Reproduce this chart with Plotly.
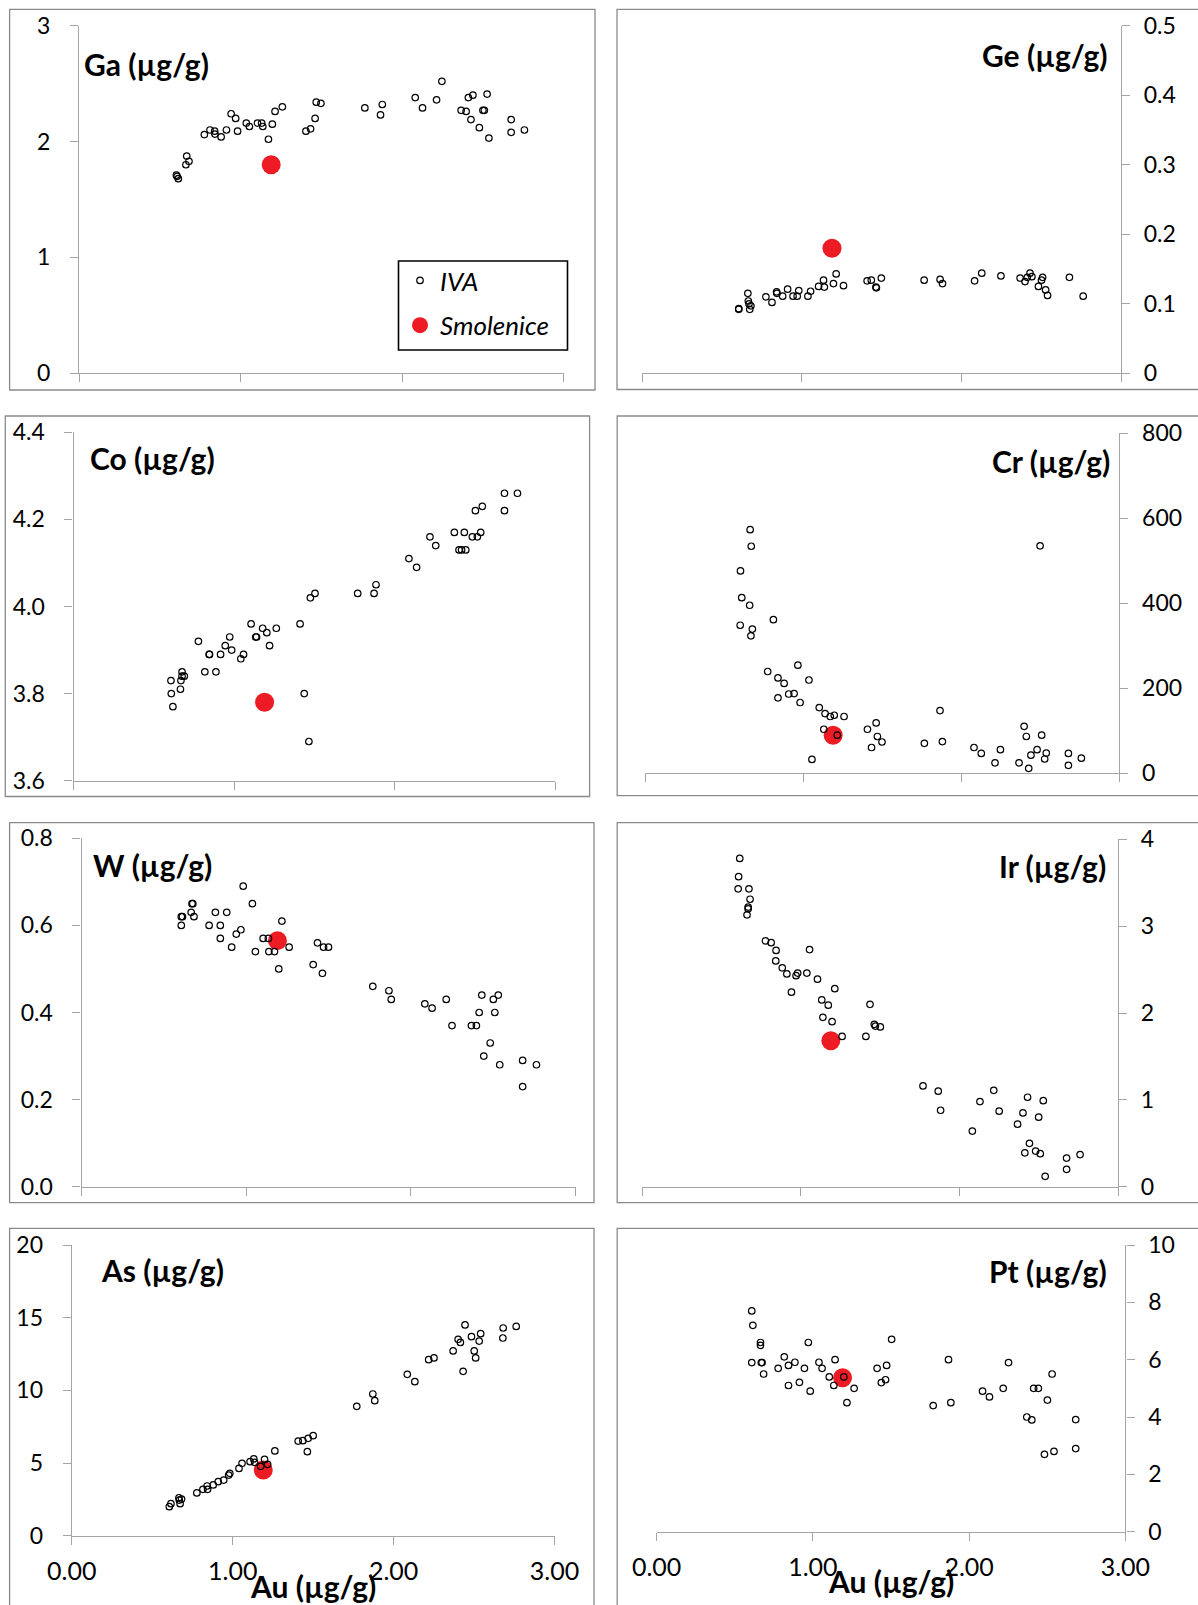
import plotly.graph_objects as go

W, H = 1198, 1605

# ---- Au (µg/g) and element concentrations for IVA irons ----
ga_au = [0.603, 0.608, 0.615, 0.667, 0.662, 0.681, 0.776, 0.811, 0.840, 0.842, 0.880, 0.913, 0.942, 0.970,
         0.982, 1.036, 1.055, 1.105, 1.131, 1.138, 1.173, 1.197, 1.214, 1.259, 1.405, 1.434, 1.462, 1.469,
         1.498, 1.770, 1.867, 1.878, 2.082, 2.127, 2.214, 2.247, 2.366, 2.397, 2.411, 2.439, 2.427, 2.479,
         2.501, 2.510, 2.527, 2.538, 2.676, 2.676, 2.758]
ga_iva = [1.71, 1.70, 1.68, 1.875, 1.80, 1.83, 2.06, 2.10, 2.09, 2.065, 2.04, 2.10, 2.24, 2.20, 2.09, 2.16,
          2.13, 2.16, 2.16, 2.13, 2.02, 2.15, 2.26, 2.30, 2.09, 2.11, 2.20, 2.34, 2.33, 2.29, 2.23, 2.32,
          2.38, 2.29, 2.36, 2.52, 2.27, 2.26, 2.38, 2.40, 2.19, 2.12, 2.27, 2.27, 2.41, 2.03, 2.19, 2.08, 2.10]

ge_au = [0.606, 0.606, 0.663, 0.666, 0.670, 0.682, 0.675, 0.776, 0.814, 0.843, 0.845, 0.881, 0.912, 0.946,
         0.972, 0.982, 1.039, 1.056, 1.106, 1.137, 1.142, 1.199, 1.216, 1.262, 1.410, 1.436, 1.465, 1.468,
         1.499, 1.767, 1.867, 1.882, 2.083, 2.128, 2.248, 2.368, 2.399, 2.413, 2.430, 2.442, 2.483, 2.502,
         2.509, 2.528, 2.540, 2.677, 2.763]
ge_iva = [0.093, 0.092, 0.115, 0.104, 0.100, 0.097, 0.092, 0.110, 0.102, 0.117, 0.115, 0.111, 0.121, 0.111,
          0.111, 0.119, 0.111, 0.118, 0.125, 0.134, 0.124, 0.129, 0.143, 0.126, 0.133, 0.134, 0.124, 0.123,
          0.137, 0.134, 0.135, 0.129, 0.133, 0.144, 0.140, 0.137, 0.132, 0.138, 0.144, 0.139, 0.125, 0.134,
          0.138, 0.120, 0.112, 0.138, 0.111]

co_au = [0.607, 0.609, 0.619, 0.666, 0.669, 0.676, 0.676, 0.690, 0.778, 0.818, 0.845, 0.847, 0.887, 0.916,
         0.945, 0.973, 0.985, 1.042, 1.059, 1.106, 1.135, 1.140, 1.178, 1.204, 1.221, 1.263, 1.411, 1.437,
         1.466, 1.475, 1.504, 1.770, 1.872, 1.884, 2.089, 2.137, 2.220, 2.256, 2.372, 2.401, 2.417, 2.434,
         2.443, 2.484, 2.503, 2.515, 2.536, 2.546, 2.684, 2.684, 2.765]
co_iva = [3.83, 3.80, 3.77, 3.81, 3.83, 3.85, 3.84, 3.84, 3.92, 3.85, 3.89, 3.89, 3.85, 3.89, 3.91, 3.93,
          3.90, 3.88, 3.89, 3.96, 3.93, 3.93, 3.95, 3.94, 3.91, 3.95, 3.96, 3.80, 3.69, 4.02, 4.03, 4.03,
          4.03, 4.05, 4.11, 4.09, 4.16, 4.14, 4.17, 4.13, 4.13, 4.17, 4.13, 4.16, 4.22, 4.16, 4.17, 4.23,
          4.26, 4.22, 4.26]

cr_au = [0.665, 0.672, 0.604, 0.612, 0.662, 0.602, 0.679, 0.670, 0.812, 0.776, 0.841, 0.880, 0.841, 0.909,
         0.943, 0.967, 0.981, 1.037, 1.056, 1.102, 1.139, 1.131, 1.172, 1.197, 1.216, 1.259, 1.407, 1.433,
         1.462, 1.470, 1.499, 1.767, 1.866, 1.881, 2.081, 2.127, 2.214, 2.248, 2.366, 2.398, 2.412, 2.427,
         2.441, 2.480, 2.499, 2.509, 2.528, 2.538, 2.678, 2.678, 2.760]
cr_iva = [573, 534, 476, 413, 395, 348, 339, 323, 361, 239, 224, 211, 177, 186, 187, 254, 166, 219, 32, 154,
          140, 103, 133, 136, 89, 133, 103, 60, 118, 86, 73, 70, 147, 74, 60, 46, 24, 55, 24, 110, 86, 11,
          42, 55, 535, 89, 33, 47, 46, 18, 35]

w_au = [0.606, 0.606, 0.613, 0.666, 0.671, 0.676, 0.683, 0.775, 0.813, 0.843, 0.843, 0.882, 0.912, 0.940,
        0.968, 0.982, 1.038, 1.056, 1.103, 1.135, 1.138, 1.172, 1.198, 1.217, 1.261, 1.407, 1.433, 1.463,
        1.470, 1.500, 1.769, 1.867, 1.881, 2.085, 2.129, 2.215, 2.250, 2.368, 2.398, 2.415, 2.431, 2.443,
        2.482, 2.501, 2.510, 2.531, 2.540, 2.679, 2.679, 2.763]
w_iva = [0.60, 0.62, 0.62, 0.63, 0.65, 0.65, 0.62, 0.60, 0.63, 0.60, 0.57, 0.63, 0.55, 0.58, 0.59, 0.69,
         0.65, 0.54, 0.57, 0.57, 0.54, 0.54, 0.50, 0.61, 0.55, 0.51, 0.56, 0.49, 0.55, 0.55, 0.46, 0.45,
         0.43, 0.42, 0.41, 0.43, 0.37, 0.37, 0.37, 0.40, 0.44, 0.30, 0.33, 0.43, 0.40, 0.44, 0.28, 0.29,
         0.23, 0.28]

ir_au = [0.616, 0.609, 0.606, 0.674, 0.681, 0.669, 0.669, 0.662, 0.778, 0.814, 0.845, 0.843, 0.884, 0.913,
         0.971, 0.981, 1.039, 1.056, 0.942, 1.106, 1.215, 1.133, 1.174, 1.140, 1.198, 1.261, 1.411, 1.437,
         1.464, 1.471, 1.502, 1.771, 1.867, 1.882, 2.082, 2.130, 2.217, 2.251, 2.367, 2.401, 2.430, 2.413,
         2.442, 2.481, 2.500, 2.510, 2.529, 2.541, 2.676, 2.676, 2.761]
ir_iva = [3.78, 3.57, 3.43, 3.43, 3.31, 3.22, 3.20, 3.13, 2.83, 2.81, 2.72, 2.60, 2.52, 2.45, 2.43, 2.46,
          2.46, 2.73, 2.24, 2.39, 2.28, 2.15, 2.09, 1.95, 1.90, 1.73, 1.73, 2.10, 1.87, 1.85, 1.84, 1.16,
          1.10, 0.88, 0.64, 0.98, 1.11, 0.87, 0.72, 0.85, 1.03, 0.39, 0.50, 0.41, 0.80, 0.38, 0.99, 0.12,
          0.33, 0.20, 0.37]

as_au = [0.606, 0.616, 0.666, 0.668, 0.673, 0.682, 0.777, 0.815, 0.841, 0.844, 0.879, 0.910, 0.944, 0.975,
         0.982, 1.039, 1.058, 1.108, 1.131, 1.136, 1.174, 1.198, 1.217, 1.262, 1.407, 1.436, 1.464, 1.469,
         1.500, 1.771, 1.871, 1.883, 2.085, 2.132, 2.218, 2.251, 2.370, 2.401, 2.415, 2.432, 2.444, 2.484,
         2.501, 2.510, 2.532, 2.541, 2.679, 2.681, 2.762]
as_iva = [2.00, 2.20, 2.61, 2.45, 2.20, 2.52, 2.94, 3.19, 3.42, 3.19, 3.49, 3.72, 3.83, 4.17, 4.29, 4.63,
          4.98, 5.09, 5.28, 5.05, 4.77, 5.25, 4.91, 5.83, 6.51, 6.54, 5.78, 6.70, 6.88, 8.90, 9.75, 9.29,
          11.10, 10.60, 12.11, 12.23, 12.71, 13.51, 13.30, 11.31, 14.50, 13.69, 12.71, 12.23, 13.39, 13.90,
          13.60, 14.29, 14.40]

pt_au = [0.609, 0.616, 0.609, 0.665, 0.665, 0.670, 0.675, 0.685, 0.778, 0.817, 0.844, 0.844, 0.885, 0.914,
         0.946, 0.971, 0.983, 1.039, 1.059, 1.105, 1.134, 1.142, 1.198, 1.218, 1.264, 1.411, 1.438, 1.465,
         1.472, 1.504, 1.770, 1.868, 1.883, 2.086, 2.130, 2.218, 2.252, 2.369, 2.401, 2.413, 2.443, 2.482,
         2.501, 2.531, 2.543, 2.682, 2.682]
pt_iva = [7.70, 7.20, 5.90, 6.60, 6.50, 5.90, 5.90, 5.50, 5.70, 6.10, 5.80, 5.10, 5.91, 5.21, 5.70, 6.60,
          4.90, 5.91, 5.70, 5.40, 5.10, 6.00, 5.40, 4.50, 5.00, 5.70, 5.20, 5.30, 5.80, 6.71, 4.40, 6.00,
          4.50, 4.90, 4.70, 5.00, 5.90, 4.00, 3.90, 5.00, 5.00, 2.70, 4.59, 5.50, 2.80, 3.91, 2.90]

# ---- Smolenice meteorite ----
smolenice_au = 1.19
smolenice = {"Ga": 1.80, "Ge": 0.18, "Co": 3.78, "Cr": 89, "W": 0.565, "Ir": 1.68, "As": 4.52, "Pt": 5.37}

element_names = ["Ga", "Ge", "Co", "Cr", "W", "Ir", "As", "Pt"]
iva_x = [ga_au, ge_au, co_au, cr_au, w_au, ir_au, as_au, pt_au]
iva_y = [ga_iva, ge_iva, co_iva, cr_iva, w_iva, ir_iva, as_iva, pt_iva]
y_ranges = [(0, 3), (0, 0.5), (3.6, 4.4), (0, 800), (0, 0.8), (0, 4), (0, 20), (0, 10)]
y_dticks = [1, 0.1, 0.2, 200, 0.2, 1, 5, 2]
y_formats = ["", "", ".1f", "", ".1f", "", "", ""]
au_ticks = [0, 1, 2, 3]
au_labels = ["0.00", "1.00", "2.00", "3.00"]
unit = " (µg/g)"

# ---- panel geometry in pixels ----
# (x at Au=0, x at Au=3, y at top of range, y at bottom of range)
plot_px = [
    (79.0, 563.5, 25.7, 373.3),
    (642.0, 1121.0, 25.7, 373.3),
    (73.5, 555.2, 432.3, 780.7),
    (645.0, 1119.3, 433.3, 773.0),
    (81.5, 575.5, 838.3, 1186.7),
    (642.0, 1118.0, 839.3, 1186.7),
    (71.8, 554.5, 1245.0, 1535.7),
    (656.6, 1125.4, 1245.0, 1531.7),
]
# outer frame of each panel (x0, y0, x1, y1)
frame_px = [
    (9.6, 9.3, 595.0, 390.0),
    (617.0, 9.3, 1205.0, 389.5),
    (5.3, 416.0, 589.6, 796.5),
    (617.2, 416.0, 1205.0, 795.7),
    (9.6, 822.7, 594.0, 1202.7),
    (617.2, 822.7, 1205.0, 1202.7),
    (9.6, 1228.3, 594.0, 1612.0),
    (617.2, 1228.3, 1205.0, 1612.0),
]
# panel title anchor (x, y centre); left panels anchor left, right panels anchor right
title_px = [
    (82, 64), (1110, 55), (88, 458), (1112, 461),
    (91, 865), (1108, 866), (99, 1270), (1109, 1271),
]
# legend box (x0, y0, x1, y1)
legend_box_px = (398.5, 261.0, 567.5, 350.0)

FONT = "Lato"
AXIS_GREY = "#a5a5a5"
FRAME_GREY = "#8a8a8a"
RED = "#ED1C24"


def fx(p):
    return p / W


def fy(p):
    return 1 - p / H


fig = go.Figure()
layout = dict(
    width=W, height=H, autosize=False,
    margin=dict(l=0, r=0, t=0, b=0, pad=0, autoexpand=False),
    paper_bgcolor="white", plot_bgcolor="white",
    showlegend=True,
    legend=dict(
        x=fx(400), y=fy(257), xanchor="left", yanchor="top",
        bgcolor="rgba(0,0,0,0)", borderwidth=0,
        font=dict(family=FONT, size=26, color="black", style="italic"),
        traceorder="grouped", tracegroupgap=8,
    ),
    shapes=[], annotations=[],
)

for i, name in enumerate(element_names):
    k = i + 1
    xa = "x" if k == 1 else f"x{k}"
    ya = "y" if k == 1 else f"y{k}"
    right = (i % 2 == 1)
    bottom_row = i >= 6
    x0, x3, yt, yb = plot_px[i]

    # Smolenice first so the open IVA circles stay visible on top
    fig.add_trace(go.Scatter(
        x=[smolenice_au], y=[smolenice[name]], xaxis=xa, yaxis=ya,
        mode="markers", name="Smolenice",
        marker=dict(size=19, color=RED, line=dict(width=0)),
        showlegend=(i == 0), legendgroup="smolenice", legendrank=2,
    ))
    fig.add_trace(go.Scatter(
        x=iva_x[i], y=iva_y[i], xaxis=xa, yaxis=ya,
        mode="markers", name="IVA",
        marker=dict(symbol="circle-open", size=6.5, color="black", line=dict(width=1.2, color="black")),
        showlegend=(i == 0), legendgroup="iva", legendrank=1,
    ))

    lo, hi = y_ranges[i]
    layout["xaxis" if k == 1 else f"xaxis{k}"] = dict(
        domain=[fx(x0), fx(x3)], range=[0, 3], anchor=ya,
        showgrid=False, zeroline=False, automargin=False,
        showline=True, linecolor=AXIS_GREY, linewidth=1.3,
        ticks="outside", ticklen=8, tickwidth=1.3, tickcolor=AXIS_GREY,
        tickvals=au_ticks, ticktext=au_labels, showticklabels=bottom_row,
        tickfont=dict(family=FONT, size=25, color="black"),
        ticklabelstandoff=5,
    )
    layout["yaxis" if k == 1 else f"yaxis{k}"] = dict(
        domain=[fy(yb), fy(yt)], range=[lo, hi], anchor=xa,
        side="right" if right else "left",
        showgrid=False, zeroline=False, automargin=False,
        showline=True, linecolor=AXIS_GREY, linewidth=1.3,
        ticks="outside", ticklen=8, tickwidth=1.3, tickcolor=AXIS_GREY,
        tick0=lo, dtick=y_dticks[i], tickformat=y_formats[i],
        tickfont=dict(family=FONT, size=23, color="black"),
        ticklabelstandoff=9 if right else 15,
    )

    fx0, fy0, fx1, fy1 = frame_px[i]
    layout["shapes"].append(dict(
        type="rect", xref="paper", yref="paper",
        x0=fx(fx0), x1=fx(fx1), y0=fy(fy1), y1=fy(fy0),
        line=dict(color=FRAME_GREY, width=1.3), fillcolor="rgba(0,0,0,0)", layer="below",
    ))

    tx, ty = title_px[i]
    layout["annotations"].append(dict(
        text=name + unit, xref="paper", yref="paper",
        x=fx(tx), y=fy(ty), xanchor="right" if right else "left", yanchor="middle",
        showarrow=False, font=dict(family=FONT, size=30, color="black", weight="bold"),
    ))

# legend frame
lx0, ly0, lx1, ly1 = legend_box_px
layout["shapes"].append(dict(
    type="rect", xref="paper", yref="paper",
    x0=fx(lx0), x1=fx(lx1), y0=fy(ly1), y1=fy(ly0),
    line=dict(color="black", width=1.6), fillcolor="white", layer="above",
))

# Au axis titles under the bottom panels
for xa_name, ycen in (("x7", 1586), ("x8", 1581)):
    layout["annotations"].append(dict(
        text="Au" + unit, xref=xa_name, yref="paper", x=1.5, y=fy(ycen),
        xanchor="center", yanchor="middle", showarrow=False,
        font=dict(family=FONT, size=30, color="black", weight="bold"),
    ))

fig.update_layout(**layout)
fig.write_html("out.html")
